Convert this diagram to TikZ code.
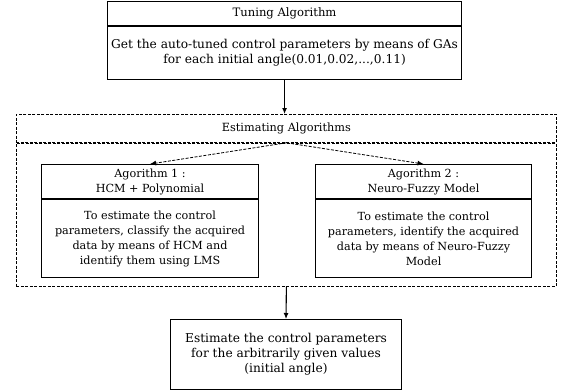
\documentclass[tikz,border=0pt]{standalone}
\usepackage{fontspec}
\setmainfont{DejaVu Serif}
\usetikzlibrary{positioning,arrows.meta}

\begin{document}
\begin{tikzpicture}[x=1pt,y=-1pt,>={Latex[length=6pt,width=5pt]},
                    box/.style={draw,line width=1.1pt,align=center,inner sep=1pt,
                                font=\fontsize{11.2}{15}\selectfont},
                    dbox/.style={draw,line width=0.8pt,dash pattern=on 3pt off 1.5pt,
                                 align=center,inner sep=1pt,font=\fontsize{11.3}{15}\selectfont},
                    wide/.style={font=\fontsize{12.2}{15}\selectfont}
                   ]
    \useasboundingbox (0,0) rectangle (562,391);

    % tuning
    \node[box,font=\fontsize{11.6}{15}\selectfont,anchor=north west,minimum width=354pt,minimum height=24pt](tunehead) at (107,1) {Tuning Algorithm};
    \node[box,wide,below=0pt of tunehead,minimum width=354pt,minimum height=53pt](tunebody) {
        Get the auto-tuned control parameters by means of GAs\\
        for each initial angle(0.01,0.02,...,0.11)
    };

    % estimating algorithms
    \node[dbox,anchor=north west,minimum width=540pt,minimum height=28pt](esthead) at (16,114) {Estimating Algorithms};
    \node[dbox,below=0pt of esthead,minimum width=540pt,minimum height=143pt](estbody) {};

    \node[box,anchor=north west,minimum width=217pt,minimum height=34pt](alg1head) at (41,164) {
        Agorithm 1 :\\
        HCM + Polynomial
    };
    \node[box,below=0pt of alg1head,minimum width=217pt,minimum height=78pt](alg1body) {
        To estimate the control\\
        parameters, classify the acquired\\
        data by means of HCM and\\
        identify them using LMS
    };
    \node[box,anchor=north west,minimum width=216pt,minimum height=34pt](alg2head) at (315,164) {
        Agorithm 2 :\\
        Neuro-Fuzzy Model
    };
    \node[box,below=0pt of alg2head,minimum width=216pt,minimum height=78pt](alg2body) {
        To estimate the control\\
        parameters, identify the acquired\\
        data by means of Neuro-Fuzzy\\
        Model
    };

    % result
    \node[box,wide,anchor=north,minimum width=231pt,minimum height=70pt](final) at (286,319) {
        Estimate the control parameters\\
        for the arbitrarily given values\\
        (initial angle)
    };

    \draw[->,line width=1.1pt] (tunebody.south) -- (tunebody.south |- esthead.north);
    \draw[->,line width=0.8pt,dash pattern=on 3pt off 1.5pt] (esthead.south) -- (alg1head.north);
    \draw[->,line width=0.8pt,dash pattern=on 3pt off 1.5pt] (esthead.south) -- (alg2head.north);
    \draw[->,line width=1.1pt] (estbody.south) -- (final.north);

\end{tikzpicture}
\end{document}
